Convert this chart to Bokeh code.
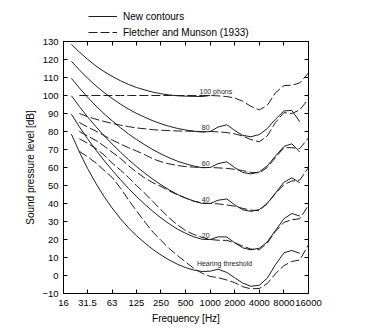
from bokeh.plotting import figure
from bokeh.layouts import column
from bokeh.models import (Range1d, FixedTicker, LinearAxis, LogAxis, Legend, LegendItem,
                          ColumnDataSource, CustomJSTickFormatter)
from bokeh.embed import file_html
from bokeh.resources import INLINE
from bokeh.core.properties import value

# ---------------- data ----------------
# New contours (ISO 226:2003), frequencies in Hz, levels in dB SPL
FREQ_NEW = [20, 25, 31.5, 40, 50, 63, 80, 100, 125, 160, 200, 250, 315, 400, 500, 630, 800,
            1000, 1250, 1600, 2000, 2500, 3150, 4000, 5000, 6300, 8000, 10000, 12500]
NEW_100 = [128.41, 124.15, 120.11, 116.38, 113.35, 110.65, 108.16, 106.17, 104.48, 103.03,
           101.85, 100.97, 100.30, 99.83, 99.62, 99.50, 99.44, 100.01]
NEW_80 = [118.99, 114.23, 109.65, 105.34, 101.72, 98.36, 95.17, 92.48, 90.09, 87.82, 85.92,
          84.31, 82.89, 81.68, 80.86, 80.17, 79.67, 80.01, 82.48, 83.74, 80.59, 77.88, 77.07,
          78.31, 81.62, 86.81, 91.41, 91.74, 85.41]
NEW_60 = [109.51, 104.23, 99.08, 94.18, 89.96, 85.94, 82.05, 78.65, 75.56, 72.47, 69.86,
          67.53, 65.39, 63.45, 62.05, 60.81, 59.89, 60.01, 62.15, 63.19, 59.96, 57.26, 56.42,
          57.57, 60.89, 66.36, 71.66, 73.16, 68.63]
NEW_40 = [99.85, 93.94, 88.17, 82.63, 77.78, 73.08, 68.48, 64.37, 60.59, 56.70, 53.41, 50.40,
          47.58, 44.98, 43.05, 41.34, 40.06, 40.01, 41.82, 42.51, 39.23, 36.51, 35.61, 36.65,
          40.01, 45.83, 51.80, 54.28, 51.49]
NEW_20 = [89.58, 82.65, 75.98, 69.62, 64.02, 58.55, 53.19, 48.38, 43.94, 39.37, 35.51, 31.99,
          28.69, 25.67, 23.43, 21.48, 20.10, 20.00, 21.46, 21.40, 18.15, 15.39, 14.26, 15.14,
          18.64, 25.02, 31.52, 34.43, 33.04]
NEW_THR = [78.5, 68.7, 59.5, 51.1, 44.0, 37.5, 31.5, 26.5, 22.1, 17.9, 14.4, 11.4, 8.6, 6.2,
           4.4, 3.0, 2.2, 2.4, 3.5, 1.7, -1.3, -4.2, -6.0, -5.4, -1.5, 6.0, 12.6, 13.9, 12.3]

# Fletcher and Munson (1933)
FREQ_FM = [25, 31.5, 40, 50, 63, 80, 100, 125, 160, 200, 250, 315, 400, 500, 630, 800, 1000,
           1250, 1600, 2000, 2500, 3150, 4000, 5000, 6300, 8000, 10000, 12500, 16000]
FM_100 = [100, 100, 100, 100, 100, 100, 100, 100, 100, 100, 100, 100, 100, 100, 100, 100, 100,
          99.8, 99.4, 98.6, 96.8, 94.0, 92.0, 94.5, 101.5, 105.5, 105.7, 107.0, 112.5]
FM_80 = [90, 88.3, 86.8, 85.6, 84.5, 83.5, 82.7, 82.0, 81.5, 81.0, 80.7, 80.5, 80.3, 80.2,
         80.1, 80.0, 80.0, 79.8, 79.4, 78.7, 77.5, 75.5, 74.3, 77.5, 85.0, 90.5, 90.0, 92.0, 98.0]
FM_60 = [85, 82.5, 80.2, 77.8, 75.3, 73.0, 71.0, 69.2, 67.0, 64.8, 63.2, 62.0, 61.1, 60.5,
         60.2, 60.0, 60.0, 59.8, 59.5, 59.0, 58.3, 57.3, 57.0, 60.0, 65.5, 71.0, 71.0, 70.5, 76.5]
FM_40 = [80, 77.5, 75.0, 72.0, 68.5, 65.0, 61.0, 57.5, 54.0, 51.5, 49.5, 47.0, 44.8, 43.0,
         41.3, 40.3, 40.0, 39.8, 39.2, 38.5, 37.3, 36.3, 36.0, 40.0, 45.5, 50.5, 52.5, 53.0, 60.0]
FM_20 = [76, 73.5, 70.5, 67.0, 62.5, 58.5, 54.5, 50.0, 45.5, 41.0, 36.5, 32.0, 28.0, 25.0,
         22.8, 21.2, 20.0, 19.6, 19.5, 18.2, 16.3, 14.7, 14.3, 18.0, 24.5, 29.5, 31.0, 31.5, 39.0]
FM_THR = [69, 66, 62.5, 58.5, 54.5, 48.5, 42.0, 36.0, 29.5, 24.0, 19.5, 15.0, 11.0, 7.5, 4.0,
          1.2, -0.5, -1.2, -2.5, -4.0, -6.2, -7.4, -7.2, -4.5, 1.0, 5.5, 7.8, 8.6, 17.0]

X_TICKS = [16, 31.5, 63, 125, 250, 500, 1000, 2000, 4000, 8000, 16000]
Y_TICKS = [-10, 0, 10, 20, 30, 40, 50, 60, 70, 80, 90, 100, 110, 120, 130]

SERIES_NAMES = ["New contours", "Fletcher and Munson (1933)"]

CURVE_LABELS = ["100 phons", "80", "60", "40", "20"]
CURVE_LABEL_F = [740, 790, 790, 790, 790]
CURVE_LABEL_L = [102.2, 82.1, 62.1, 42.0, 22.2]
THR_LABEL = ["Hearing threshold"]
THR_LABEL_F = [1500]
THR_LABEL_L = [6.6]

FONT = "Liberation Sans"
INK = "#1e1e1e"
DASH = "9 3"

# ---------------- legend header (its frame is aligned with the chart frame) ----------------
HEAD_H = 38
head = figure(width=372, height=HEAD_H, x_range=Range1d(0, 1), y_range=Range1d(0, 1),
              output_backend="svg", toolbar_location=None,
              x_axis_location=None, y_axis_location=None, min_border=0)
head.outline_line_color = None
head.xgrid.visible = False
head.ygrid.visible = False
head.background_fill_color = "white"
head.border_fill_color = "white"
# legend sample renderers: the series themselves, lying outside this strip's (0..1) view
leg_solid = head.line(FREQ_NEW, NEW_20, line_color=INK, line_width=1)
leg_dash = head.line(FREQ_FM, FM_20, line_color=INK, line_width=1, line_dash=DASH)
legend = Legend(items=[LegendItem(label=SERIES_NAMES[0], renderers=[leg_solid]),
                       LegendItem(label=SERIES_NAMES[1], renderers=[leg_dash])],
                location=(25, 0), border_line_color=None, background_fill_alpha=0,
                glyph_width=29, glyph_height=12, label_height=12, spacing=4, padding=0,
                margin=0, label_standoff=6, label_text_font=FONT, label_text_font_size="10px",
                label_text_color="black")
head.add_layout(legend)

# ---------------- main chart ----------------
p = figure(width=372, height=336 - HEAD_H, x_axis_type="log",
           x_range=Range1d(16, 16000), y_range=Range1d(-10, 130),
           output_backend="svg", toolbar_location=None,
           min_border_left=63, min_border_right=64, min_border_top=41 - HEAD_H,
           min_border_bottom=43)
p.background_fill_color = "white"
p.border_fill_color = "white"
p.outline_line_color = "black"
p.outline_line_width = 1
p.xgrid.visible = False
p.ygrid.visible = False

xt = FixedTicker(ticks=X_TICKS)
yt = FixedTicker(ticks=Y_TICKS)
xfmt = CustomJSTickFormatter(code="return tick.toString();")
yfmt = CustomJSTickFormatter(code="return tick < 0 ? '\\u2212' + Math.abs(tick) : tick.toString();")

bottom_ax = p.xaxis[0]
left_ax = p.yaxis[0]
bottom_ax.ticker = xt
bottom_ax.formatter = xfmt
bottom_ax.axis_label = "Frequency [Hz]"
bottom_ax.major_label_standoff = 6
bottom_ax.axis_label_standoff = 4
left_ax.ticker = yt
left_ax.formatter = yfmt
left_ax.axis_label = "Sound pressure level [dB]"
left_ax.major_label_standoff = 5
left_ax.axis_label_standoff = 3

top_ax = LogAxis(ticker=xt)
right_ax = LinearAxis(ticker=yt)
p.add_layout(top_ax, "above")
p.add_layout(right_ax, "right")

for ax in [bottom_ax, left_ax, top_ax, right_ax]:
    ax.major_tick_in = 4
    ax.major_tick_out = 0
    ax.minor_tick_line_color = None
    ax.axis_line_color = "black"
    ax.major_tick_line_color = "black"
    ax.major_label_text_font = FONT
    ax.major_label_text_font_size = "9.5px"
    ax.major_label_text_color = "black"
    ax.axis_label_text_font = FONT
    ax.axis_label_text_font_size = "10px"
    ax.axis_label_text_font_style = "normal"
    ax.axis_label_text_color = "black"
for ax in [top_ax, right_ax]:
    ax.major_label_text_color = None
    ax.major_label_text_font_size = "1px"
    ax.major_label_standoff = 0

# new contours (solid)
for levels in [NEW_100, NEW_80, NEW_60, NEW_40, NEW_20, NEW_THR]:
    p.line(FREQ_NEW[:len(levels)], levels, line_color=INK, line_width=1)

# Fletcher & Munson (dashed)
for levels in [FM_100, FM_80, FM_60, FM_40, FM_20, FM_THR]:
    p.line(FREQ_FM, levels, line_color=INK, line_width=1, line_dash=DASH)

lab = ColumnDataSource(dict(x=CURVE_LABEL_F, y=CURVE_LABEL_L, t=CURVE_LABELS))
p.text(x="x", y="y", text="t", source=lab, text_font=value(FONT),
       text_font_size="7px", text_align="left", text_baseline="middle", text_color=INK)
lab2 = ColumnDataSource(dict(x=THR_LABEL_F, y=THR_LABEL_L, t=THR_LABEL))
p.text(x="x", y="y", text="t", source=lab2, text_font=value(FONT),
       text_font_size="7px", text_align="center", text_baseline="middle", text_color=INK)

layout = column(head, p, spacing=0)
open("out.html", "w").write(file_html(layout, INLINE))
